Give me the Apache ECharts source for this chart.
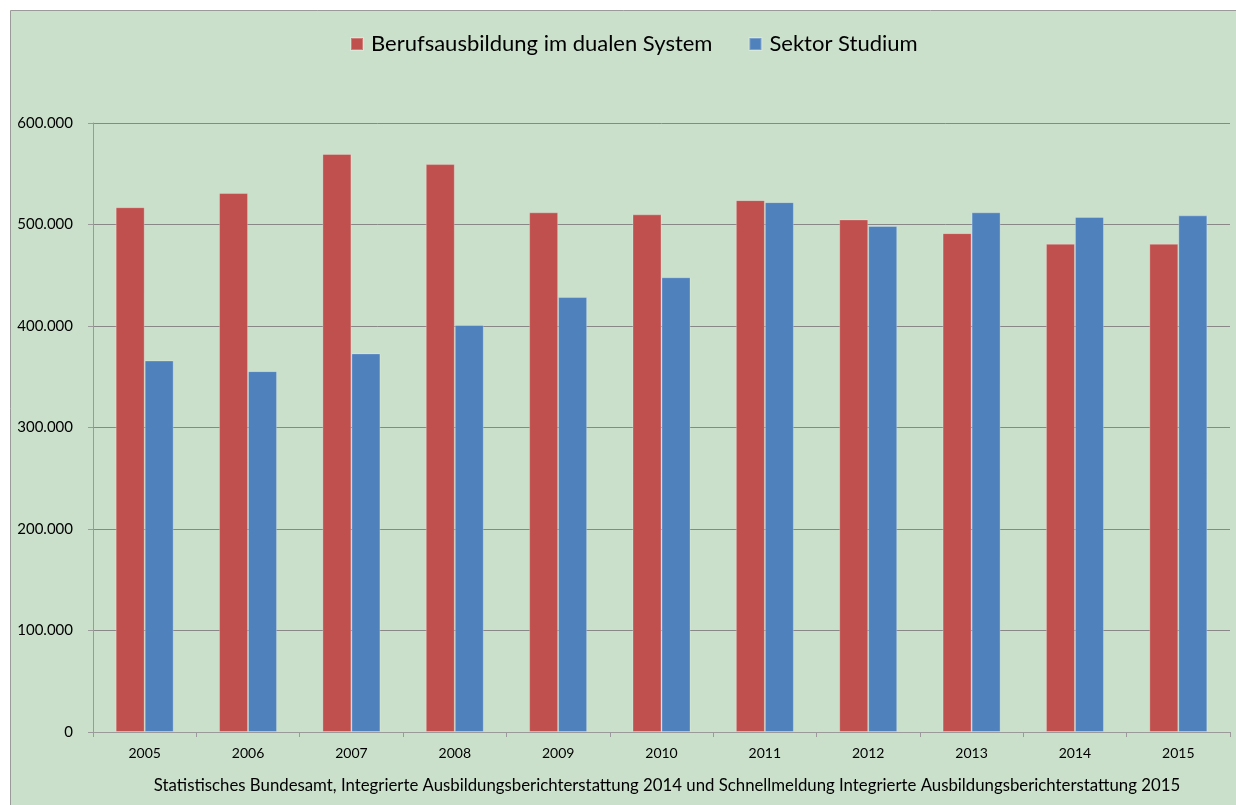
<!DOCTYPE html>
<html>
<head>
<meta charset="utf-8">
<script src="https://cdn.jsdelivr.net/npm/echarts@6/dist/echarts.min.js"></script>
<style>
  * { margin: 0; padding: 0; }
  body { background: #fff; }
  #chart1 { width: 1236px; height: 805px; }
</style>
</head>
<body>
<div id="chart1"></div>
<script>
// Daten
var years = ['2005', '2006', '2007', '2008', '2009', '2010', '2011', '2012', '2013', '2014', '2015'];
var dual = [517000, 531000, 569500, 559500, 512000, 510000, 524000, 505000, 491500, 481000, 481000];
var studium = [366000, 355500, 373000, 401000, 428500, 448000, 522000, 498500, 512000, 507500, 509000];
var yTicks = [0, 100000, 200000, 300000, 400000, 500000, 600000];
var quelle = 'Statistisches Bundesamt, Integrierte Ausbildungsberichterstattung 2014 und Schnellmeldung Integrierte Ausbildungsberichterstattung 2015';

var chart = echarts.init(document.getElementById('chart1'));
var fmt = function (v) {
  return String(v).replace(/\B(?=(\d{3})+(?!\d))/g, '.');
};
var option = {
  animation: false,
  backgroundColor: '#fff',
  textStyle: { fontFamily: 'Lato', color: '#000' },
  graphic: [{
    type: 'rect',
    z: -10,
    shape: { x: 10.5, y: 10.5, width: 1240, height: 800 },
    style: { fill: '#cae0cb', stroke: '#9a9a9a', lineWidth: 1 }
  }],
  title: {
    text: quelle,
    left: 662,
    textAlign: 'center',
    top: 772,
    textStyle: { fontSize: 16.8, fontWeight: 'normal', color: '#000', fontFamily: 'Lato' }
  },
  legend: {
    top: 28,
    left: 345,
    itemWidth: 12,
    itemHeight: 12,
    itemGap: 36,
    icon: 'rect',
    textStyle: { fontSize: 22, color: '#000', fontFamily: 'Lato', padding: [0, 0, 0, 3] }
  },
  grid: { left: 93, right: 6, top: 123, bottom: 73 },
  xAxis: {
    type: 'category',
    data: years,
    axisLine: { lineStyle: { color: '#9a9a9a', width: 1 } },
    axisTick: { show: true, length: 5, lineStyle: { color: '#9a9a9a' } },
    axisLabel: { fontSize: 14, color: '#000', margin: 14 }
  },
  yAxis: {
    type: 'value',
    min: 0,
    max: yTicks[yTicks.length - 1],
    interval: yTicks[1] - yTicks[0],
    axisLine: { show: true, lineStyle: { color: '#9a9a9a', width: 1 } },
    axisTick: { show: true, length: 5, lineStyle: { color: '#9a9a9a' } },
    splitLine: { lineStyle: { color: '#888', width: 1 } },
    axisLabel: { fontSize: 15, color: '#000', margin: 20, formatter: fmt, align: 'right' }
  },
  series: [{
    name: 'Berufsausbildung im dualen System',
    type: 'bar',
    data: dual,
    barWidth: 29,
    barGap: '0%',
    itemStyle: { color: '#c0504d', borderColor: 'rgba(255,255,255,0.25)', borderWidth: 1 }
  }, {
    name: 'Sektor Studium',
    type: 'bar',
    data: studium,
    barWidth: 29,
    itemStyle: { color: '#4f81bd', borderColor: 'rgba(255,255,255,0.25)', borderWidth: 1 }
  }]
};
chart.setOption(option);
</script>
</body>
</html>
